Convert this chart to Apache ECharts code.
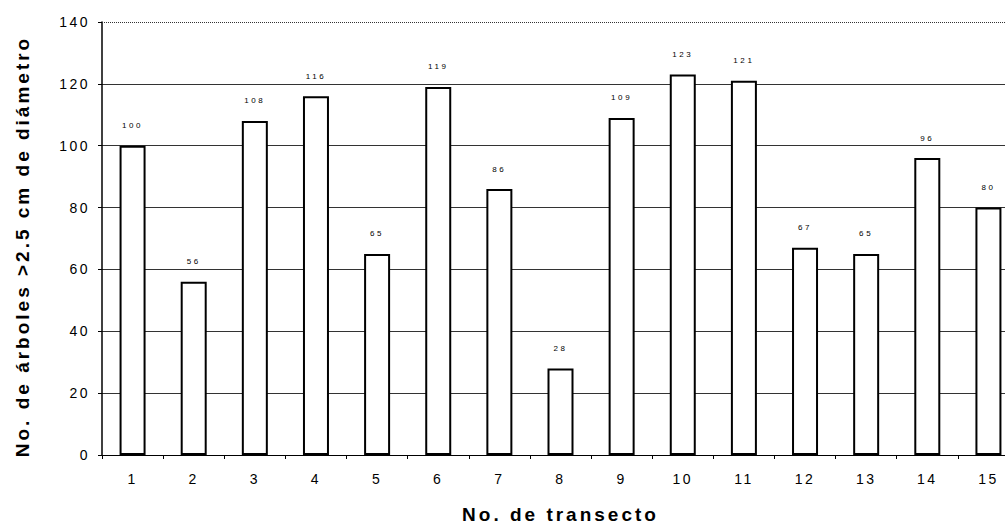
<!DOCTYPE html>
<html>
<head>
<meta charset="utf-8">
<script src="https://cdn.jsdelivr.net/npm/echarts@6/dist/echarts.min.js"></script>
<style>
  html, body { margin: 0; padding: 0; background: #fff; }
  #chart { width: 1005px; height: 527px; }
  /* spaced-out lettering, picked by font size */
  #chart svg text[style*="8px"]  { letter-spacing: 2.6px; }
  #chart svg text[style*="14px"] { letter-spacing: 2.5px; }
  #chart svg text[style*="19px"] { letter-spacing: 3px; }
</style>
</head>
<body>
<div id="chart"></div>
<script>
// Transect numbers and tree counts (> 2.5 cm diameter)
const transects = ['1','2','3','4','5','6','7','8','9','10','11','12','13','14','15'];
const treeCounts = [100, 56, 108, 116, 65, 119, 86, 28, 109, 123, 121, 67, 65, 96, 80];
const yTicks = { min: 0, max: 140, interval: 20 };

const chart = echarts.init(document.getElementById('chart'), null, { renderer: 'svg' });

chart.setOption({
  animation: false,
  backgroundColor: '#ffffff',
  // plot runs past the right edge; keep the grid exactly where it is put
  grid: { left: 102, right: -14, top: 22, bottom: 72, outerBoundsMode: 'none', containLabel: false },
  xAxis: {
    type: 'category',
    data: transects,
    name: 'No. de transecto',
    nameLocation: 'middle',
    nameGap: 50,
    nameTextStyle: { fontFamily: 'Liberation Sans', fontWeight: 'bold', fontSize: 19, color: '#000' },
    axisLine: { lineStyle: { color: '#000', width: 1 } },
    axisTick: { show: true, length: 4, lineStyle: { color: '#000' } },
    axisLabel: { fontFamily: 'Liberation Sans', fontSize: 14, color: '#000', margin: 17 },
    splitLine: { show: false }
  },
  yAxis: {
    type: 'value',
    min: yTicks.min,
    max: yTicks.max,
    interval: yTicks.interval,
    name: 'No. de árboles >2.5 cm de diámetro',
    nameLocation: 'middle',
    nameGap: 70,
    nameTextStyle: {
      fontFamily: 'Liberation Sans', fontWeight: 'bold', fontSize: 19, color: '#000',
      padding: [0, 16, 0, 0]
    },
    axisLine: { show: true, lineStyle: { color: '#000', width: 1.5 } },
    axisTick: { show: true, length: 4, lineStyle: { color: '#000' } },
    axisLabel: { fontFamily: 'Liberation Sans', fontSize: 14, color: '#000', margin: 12 },
    splitLine: { show: true, showMaxLine: false, lineStyle: { color: '#333', width: 1 } }
  },
  series: [{
    type: 'bar',
    data: treeCounts,
    barWidth: 26,
    itemStyle: { color: '#ffffff', borderColor: '#000', borderWidth: 2 },
    label: {
      show: true,
      position: 'top',
      distance: 16,
      fontFamily: 'Liberation Sans',
      fontSize: 8,
      color: '#000'
    },
    markLine: {
      silent: true,
      symbol: 'none',
      label: { show: false },
      lineStyle: { color: '#333', type: 'dotted', width: 1 },
      data: [{ yAxis: yTicks.max }]
    }
  }]
});
</script>
</body>
</html>
